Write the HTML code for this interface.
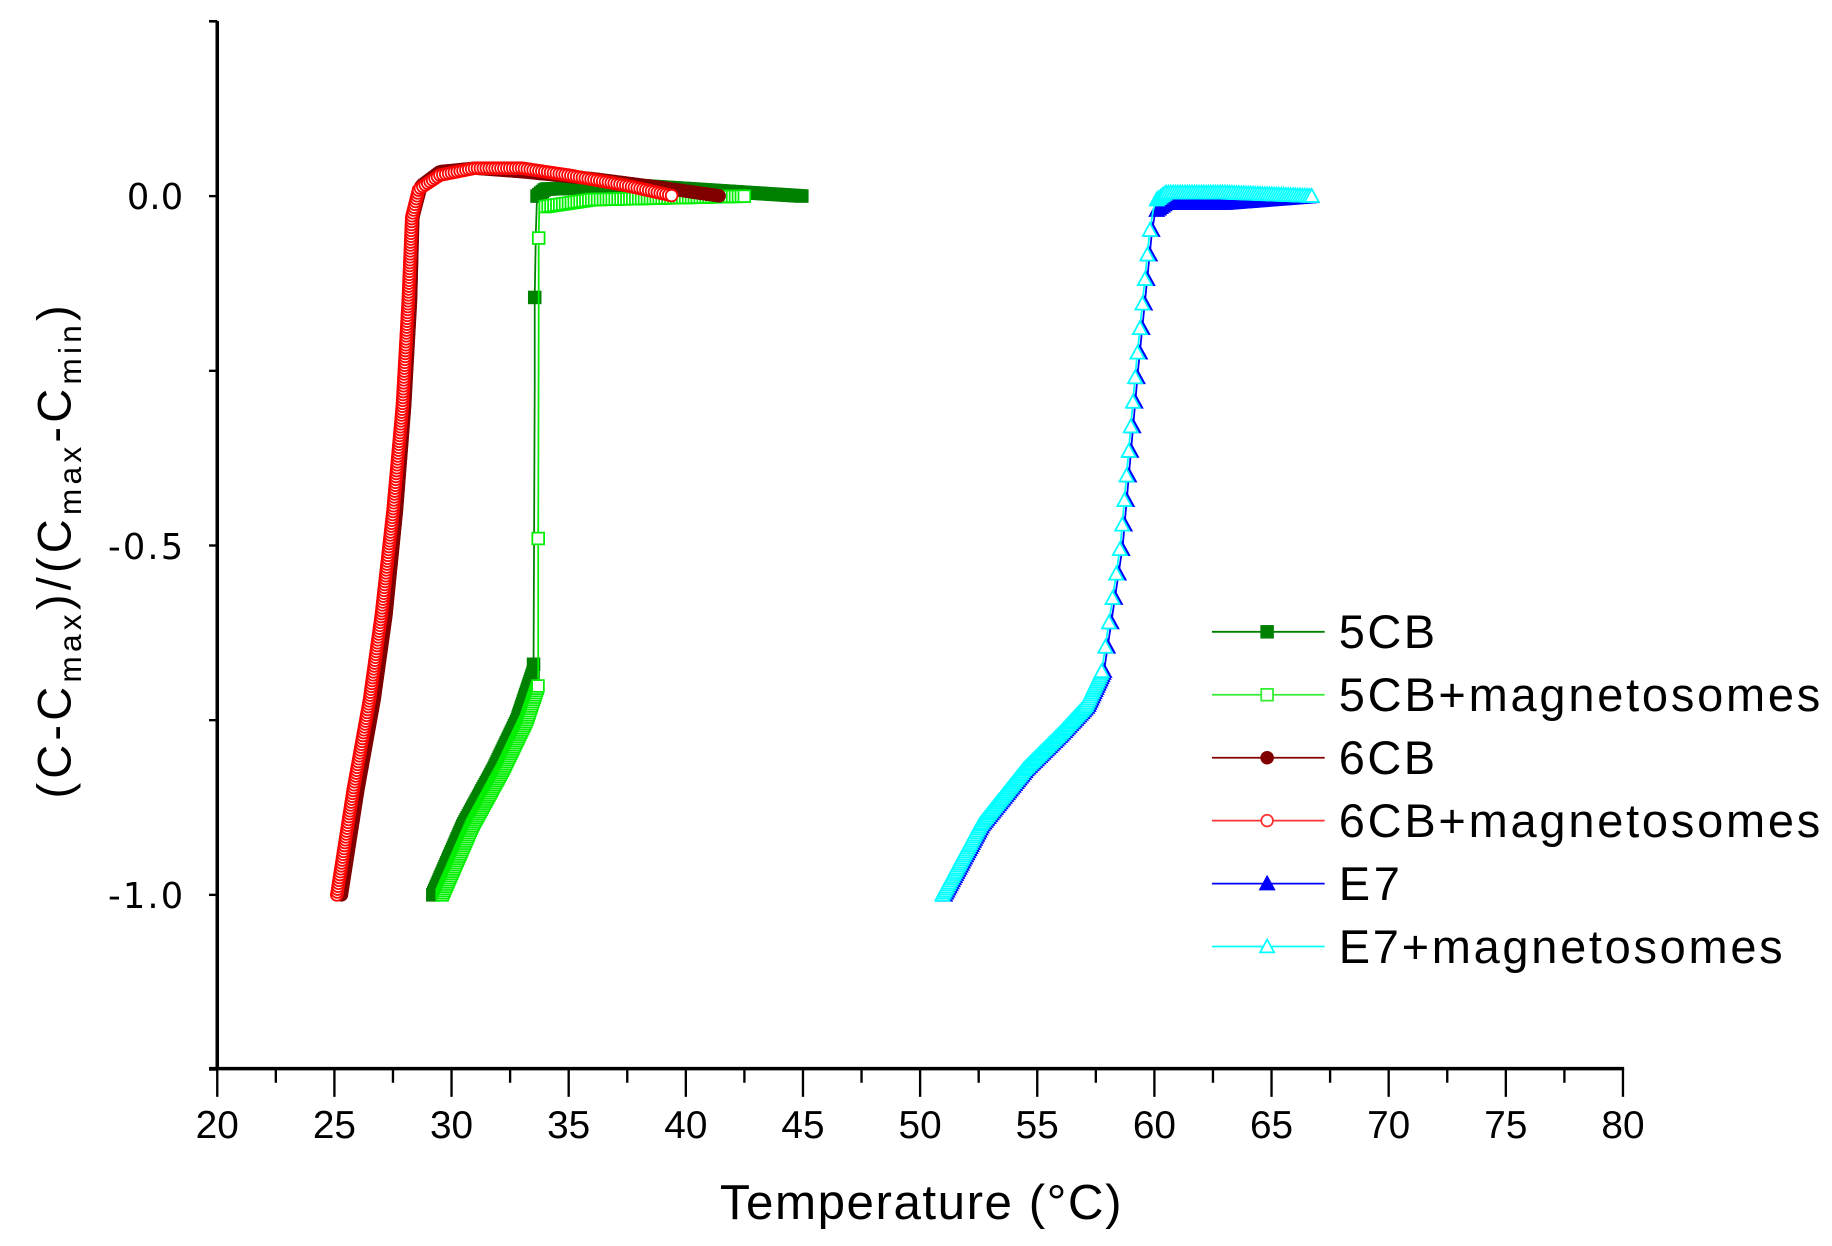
<!DOCTYPE html>
<html><head><meta charset="utf-8"><style>
html,body{margin:0;padding:0;background:#fff}
svg{display:block}
</style></head><body>
<svg id="s" width="1832" height="1246" viewBox="0 0 1560 1061" preserveAspectRatio="none" xmlns="http://www.w3.org/2000/svg">
<g id="axes" stroke="#000" fill="none">
<line x1="185" y1="18" x2="185" y2="911" stroke-width="3"/>
<line x1="178" y1="18" x2="185" y2="18" stroke-width="2"/>
<line x1="178" y1="910" x2="1383" y2="910" stroke-width="3"/>
</g>
<g id="ticks" stroke="#000" stroke-width="2"></g>
<g font-family="'DejaVu Sans',sans-serif" font-size="30" text-anchor="end" fill="#000">
<text x="156" y="178" textLength="48">0.0</text>
<text x="156" y="476" textLength="64">-0.5</text>
<text x="156" y="773" textLength="64">-1.0</text>
</g>
<g id="xl" font-family="'Liberation Sans',sans-serif" font-size="33" text-anchor="middle" fill="#000"></g>
<text x="784" y="1038" font-family="'Liberation Sans',sans-serif" font-size="42" text-anchor="middle" textLength="342">Temperature (°C)</text>
<text transform="translate(60,470) rotate(-90)" font-family="'Liberation Sans',sans-serif" font-size="40" text-anchor="middle" textLength="420">(C-C<tspan font-size="27" dy="9">max</tspan><tspan dy="-9">)/(C</tspan><tspan font-size="27" dy="9">max</tspan><tspan dy="-9">-C</tspan><tspan font-size="27" dy="9">min</tspan><tspan dy="-9">)</tspan></text>
<g id="data"></g>
<g id="leg" font-family="'Liberation Sans',sans-serif" font-size="40" fill="#000"></g>
</svg>
<script>
var NS="http://www.w3.org/2000/svg";
function el(p,t,a,txt){var e=document.createElementNS(NS,t);for(var k in a)e.setAttribute(k,a[k]);if(txt!=null)e.textContent=txt;p.appendChild(e);return e;}
function X(t){return 185+(t-20)*19.95;}
function Y(v){return 167-v*595;}
var tk=document.getElementById('ticks'),xl=document.getElementById('xl');
for(var t=20;t<=80;t+=2.5){var maj=(t%5==0);el(tk,'line',{x1:X(t),y1:910,x2:X(t),y2:maj?934:922});
 if(maj)el(xl,'text',{x:X(t),y:969},String(t));}
[0.25,0,-0.25,-0.5,-0.75,-1,-1.25].forEach(function(v){el(tk,'line',{x1:178,y1:Y(v),x2:185,y2:Y(v)});});
var data=document.getElementById('data');
function marker(g,type,x,y,col,fill,s){
 s=s||5;
 if(type=='sq')el(g,'rect',{x:x-s,y:y-s,width:2*s,height:2*s,fill:fill,stroke:col,'stroke-width':1.5});
 else if(type=='ci')el(g,'circle',{cx:x,cy:y,r:s,fill:fill,stroke:col,'stroke-width':1.5});
 else el(g,'polygon',{points:(x)+','+(y-s-1)+' '+(x-s-1)+','+(y+s)+' '+(x+s+1)+','+(y+s),fill:fill,stroke:col,'stroke-width':1.5});
}
function series(segs,type,col,fill){
 var g=el(data,'g',{});
 segs.forEach(function(sg){sg.pts=sg[0].map(function(p){return [X(p[0]),Y(p[1])];});});
 var d='';segs.forEach(function(sg){sg.pts.forEach(function(p){d+=(d?'L':'M')+p[0]+','+p[1];});});
 el(g,'path',{d:d,fill:'none',stroke:col,'stroke-width':1.5});
 segs.forEach(function(sg){var pts=sg.pts,sp=sg[1],acc=0;
  marker(g,type,pts[0][0],pts[0][1],col,fill);
  for(var i=1;i<pts.length;i++){var dx=pts[i][0]-pts[i-1][0],dy=pts[i][1]-pts[i-1][1],L=Math.hypot(dx,dy);
   var pos=sp-acc;while(pos<=L){marker(g,type,pts[i-1][0]+dx*pos/L,pts[i-1][1]+dy*pos/L,col,fill);pos+=sp;}
   acc=L-(pos-sp);}
 });
}
// 5CB
series([[[[29.2,-1],[30.5,-0.9],[31.8,-0.82],[32.8,-0.75],[33.5,-0.68]],2],[[[33.5,-0.67],[33.55,-0.27]],600],[[[33.55,-0.145],[33.6,-0.05]],600],[[[33.65,0.0],[34,0.01],[38,0.015],[45,0.0]],2]],'sq','#008000','#008000');
series([[[[29.6,-1],[30.9,-0.9],[32.2,-0.82],[33.2,-0.75],[33.7,-0.7]],2],[[[33.7,-0.49],[33.72,-0.18]],600],[[[33.72,-0.06],[33.75,-0.01]],600],[[[34,-0.015],[36,-0.005],[42.6,0.0]],2.5]],'sq','#00ee00','#fff');
// 6CB
var red6=[[25.1,-1],[25.8,-0.85],[26.5,-0.72],[27.0,-0.6],[27.5,-0.45],[27.9,-0.3],[28.15,-0.15],[28.3,-0.03],[28.6,0.01],[29.5,0.03],[31,0.04],[33,0.04],[35,0.03],[37.5,0.015],[39.5,0.0]];
var dk6=[[25.3,-1],[26.0,-0.85],[26.7,-0.72],[27.2,-0.6],[27.65,-0.45],[28.0,-0.3],[28.25,-0.15],[28.35,-0.03],[28.7,0.015],[29.5,0.035],[31,0.04],[33,0.035],[36,0.025],[39,0.012],[41.5,0.0]];
series([[dk6,2]],'ci','#800000','#800000');
series([[red6,2.5]],'ci','#ff0000','#fff');
// E7
function e7(off,topv,end){var seg1=[[51+off,-1],[52.6+off,-0.9],[54.5+off,-0.82],[56+off,-0.77],[57.1+off,-0.73],[57.8+off,-0.68]];
 return [[seg1,2],[[[57.8+off,-0.68],[58.6+off,-0.5],[59.25+off,-0.25],[59.85+off,-0.05],[60.0+off,-0.02]],21],[[[60.1,topv-0.01],[60.5,topv],[63,topv],[end,0.0]],2]];}
series(e7(0.05,-0.01,66.8),'tr','#0000ff','#0000ff');
series(e7(-0.05,0.005,66.8),'tr','#00ffff','#fff');
// legend
var lg=document.getElementById('leg');
var L=[['5CB','sq','#008000','#008000'],['5CB+magnetosomes','sq','#33ee33','#fff'],['6CB','ci','#800000','#800000'],['6CB+magnetosomes','ci','#ff3333','#fff'],['E7','tr','#0000ff','#0000ff'],['E7+magnetosomes','tr','#00ffff','#fff']];
var TL=[82,410,82,410,52,378];
L.forEach(function(r,i){var y=538+i*53.6;el(lg,'line',{x1:1032,y1:y,x2:1128,y2:y,stroke:r[2],'stroke-width':1.5});
 marker(lg,r[1],1079,y,r[2],r[3],5);el(lg,'text',{x:1140,y:y+14,textLength:TL[i]},r[0]);});
</script>
</body></html>
